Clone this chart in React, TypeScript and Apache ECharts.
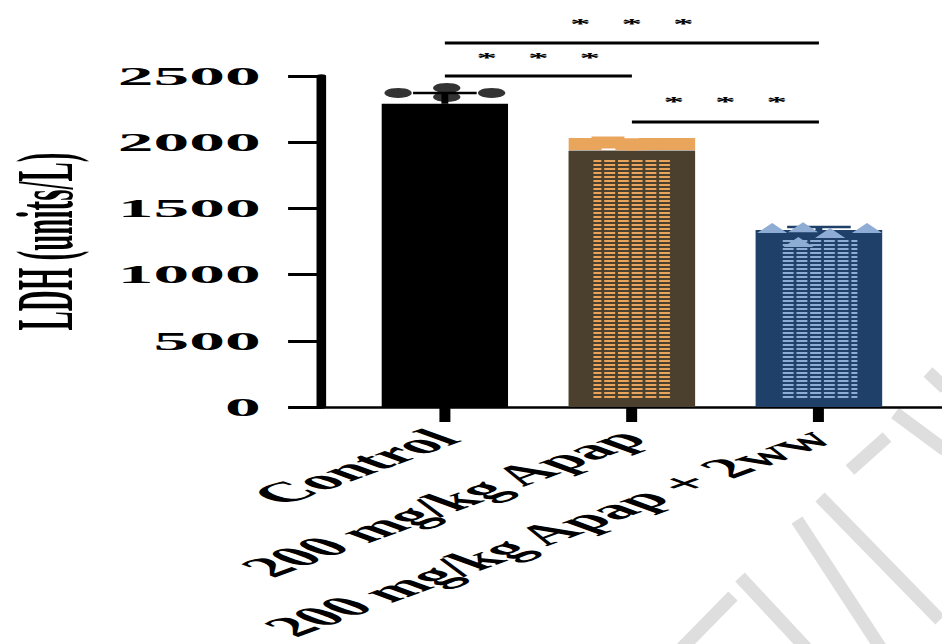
import React, { useEffect, useRef } from "react";
import * as echarts from "echarts";

// ---- data ----
const categories = ["Control", "200 mg/kg Apap", "200 mg/kg Apap + 2ww"];
const means = [2290, 1935, 1337];
const errorHigh = [2372, 1990, 1360];
const controlPoints = [
  [-0.25, 2372],
  [0.01, 2410],
  [0.01, 2342],
  [0.25, 2372],
];
const apapPoints = [
  [-0.25, 1987],
  [-0.128, 1998],
  [0, 1985],
  [0.125, 1987],
  [0.25, 1987],
];
const treatedPoints = [
  [-0.25, 1352],
  [-0.085, 1357],
  [0.257, 1352],
  [-0.11, 1246],
  [0.06, 1314],
];
const yTicks = [0, 500, 1000, 1500, 2000, 2500];
const bracketFrom = [0, 0, 1];
const bracketTo = [2, 1, 2];
const bracketLevel = [2749, 2500, 2153];
const bracketLabelLevel = [2895, 2640, 2308];
const bracketLabels = ["***", "***", "***"];

// ---- layout / style ----
const FULL_W = 942;
const H = 644;
const CHART_W = 343;
const STRETCH = FULL_W / CHART_W;
const FONT = "'Liberation Serif', 'Times New Roman', serif";
const barColors = ["#000000", "#4B3F2D", "#1F4068"];
const decalColors = [null, "#E9A55C", "#8FACD4"];
const errColors = ["#000000", "#E9A55C", "#1F4068"];
const capHalf = 0.17;

// watermark strokes (decoration, full-size pixel space)
const watermark = [
  [680, 650, 733, 596],
  [740, 577, 808, 650],
  [797, 520, 882, 650],
  [820, 497, 940, 620],
  [850, 470, 887, 437],
  [895, 413, 945, 450],
  [928, 372, 945, 388],
];

export default function App() {
  const ref = useRef<HTMLDivElement>(null);
  const wmRef = useRef<HTMLDivElement>(null);

  useEffect(() => {
    if (!ref.current || !wmRef.current) return;
    const wm = echarts.init(wmRef.current, null, { renderer: "svg" });
    wm.setOption({
      animation: false,
      graphic: watermark.map((s) => ({
        type: "line",
        shape: { x1: s[0], y1: s[1], x2: s[2], y2: s[3] },
        style: { stroke: "#DEDEDE", lineWidth: 13, lineCap: "butt" },
        silent: true,
      })),
    });

    const chart = echarts.init(ref.current, null, { renderer: "svg" });
    const barData = means.map((v, i) => ({
      value: [i, v],
      itemStyle: {
        color: barColors[i],
        borderColor: barColors[i],
        borderWidth: 9,
        decal: decalColors[i]
          ? {
              symbol: "rect",
              symbolSize: 1,
              color: decalColors[i],
              dashArrayX: [4, 0.6],
              dashArrayY: [1.5, 1.5],
              rotation: 0,
            }
          : undefined,
      },
    }));

    chart.setOption({
      animation: false,
      backgroundColor: "transparent",
      grid: {
        left: 116.9,
        right: 0,
        top: 76,
        bottom: 237,
        containLabel: false,
        outerBoundsMode: "none",
      },
      xAxis: {
        type: "value",
        min: -0.662,
        max: 2.658,
        splitLine: { show: false },
        axisLine: { show: true, onZero: false, lineStyle: { color: "#000", width: 2.5 } },
        axisTick: {
          show: true,
          customValues: [0, 1, 2],
          length: 15,
          lineStyle: { color: "#000", width: 4 },
        },
        axisLabel: {
          customValues: [0, 1, 2],
          formatter: (v: number) => categories[Math.round(v)],
          rotate: 45,
          margin: 27,
          color: "#000",
          fontFamily: FONT,
          fontWeight: "bold",
          fontSize: 28,
        },
      },
      yAxis: {
        type: "value",
        min: yTicks[0],
        max: yTicks[yTicks.length - 1],
        interval: yTicks[1] - yTicks[0],
        name: "LDH (units/L)",
        nameLocation: "middle",
        nameRotate: 90,
        nameGap: 86,
        nameTextStyle: {
          color: "#000",
          fontFamily: FONT,
          fontWeight: "bold",
          fontSize: 29,
        },
        splitLine: { show: false },
        axisLine: { show: true, onZero: false, lineStyle: { color: "#000", width: 3.5 } },
        axisTick: { show: true, length: 12, lineStyle: { color: "#000", width: 3 } },
        axisLabel: {
          margin: 22,
          color: "#000",
          fontFamily: FONT,
          fontWeight: "bold",
          fontSize: 26,
          formatter: (v: number) => String(v),
        },
      },
      series: [
        {
          type: "bar",
          barWidth: 46,
          data: barData,
          z: 2,
        },
        {
          type: "custom",
          clip: false,
          z: 3,
          data: means.map((m, i) => [i, m, errorHigh[i]]),
          encode: { x: 0, y: [1, 2] },
          renderItem: (params: any, api: any) => {
            const x = api.value(0);
            const lo = api.value(1);
            const hi = api.value(2);
            const b = api.coord([x, lo]);
            const t = api.coord([x, hi]);
            const l = api.coord([x - capHalf, hi]);
            const r = api.coord([x + capHalf, hi]);
            const c = errColors[params.dataIndex];
            return {
              type: "group",
              children: [
                { type: "line", shape: { x1: b[0], y1: b[1], x2: t[0], y2: t[1] }, style: { stroke: c, lineWidth: 2.5 } },
                { type: "line", shape: { x1: l[0], y1: l[1], x2: r[0], y2: r[1] }, style: { stroke: c, lineWidth: 2.5 } },
              ],
            };
          },
        },
        {
          type: "scatter",
          z: 4,
          symbol: "circle",
          symbolSize: 10,
          itemStyle: { color: "#000" },
          data: controlPoints.map((p) => [0 + p[0], p[1]]),
        },
        {
          type: "scatter",
          z: 4,
          symbol: "rect",
          symbolSize: 12,
          itemStyle: { color: "#E9A55C", opacity: 1 },
          data: apapPoints.map((p) => [1 + p[0], p[1]]),
        },
        {
          type: "scatter",
          z: 4,
          symbol: "triangle",
          symbolSize: [11, 10],
          itemStyle: { color: "#8FACD4", opacity: 1 },
          data: treatedPoints.map((p) => [2 + p[0], p[1]]),
        },
        {
          type: "custom",
          clip: false,
          z: 5,
          data: bracketFrom.map((f, i) => [f, bracketTo[i], bracketLevel[i], bracketLabelLevel[i]]),
          encode: { x: [0, 1], y: [2, 3] },
          renderItem: (params: any, api: any) => {
            const f = api.value(0);
            const t = api.value(1);
            const lv = api.value(2);
            const tl = api.value(3);
            const a = api.coord([f, lv]);
            const b = api.coord([t, lv]);
            const m = api.coord([(f + t) / 2, tl]);
            const txt = bracketLabels[params.dataIndex].split("").join("   ");
            return {
              type: "group",
              children: [
                { type: "line", shape: { x1: a[0], y1: a[1], x2: b[0], y2: b[1] }, style: { stroke: "#000", lineWidth: 3 } },
                {
                  type: "text",
                  x: m[0],
                  y: m[1],
                  style: {
                    text: txt,
                    fill: "#000",
                    fontFamily: FONT,
                    fontSize: 15,
                    fontWeight: "bold",
                    align: "center",
                    verticalAlign: "middle",
                  },
                },
              ],
            };
          },
        },
      ],
    });

    return () => {
      chart.dispose();
      wm.dispose();
    };
  }, []);

  return (
    <div
      style={{
        position: "fixed",
        left: 0,
        top: 0,
        width: FULL_W,
        height: H,
        background: "#fff",
        overflow: "hidden",
      }}
    >
      <div
        ref={wmRef}
        style={{ position: "absolute", left: 0, top: 0, width: FULL_W, height: H }}
      />
      <div
        ref={ref}
        style={{
          position: "absolute",
          left: 0,
          top: 0,
          width: CHART_W,
          height: H,
          transform: `scaleX(${STRETCH})`,
          transformOrigin: "0 0",
        }}
      />
    </div>
  );
}
